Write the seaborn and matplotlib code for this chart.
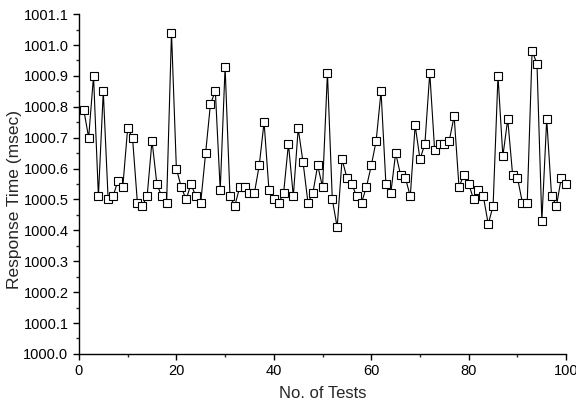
import matplotlib
matplotlib.use("Agg")
import matplotlib.pyplot as plt
import matplotlib.ticker as mticker
import pandas as pd
import seaborn as sns

tests = list(range(1, 101))
response = [
    1000.79, 1000.70, 1000.90, 1000.51, 1000.85, 1000.50, 1000.51, 1000.56, 1000.54, 1000.73,
    1000.70, 1000.49, 1000.48, 1000.51, 1000.69, 1000.55, 1000.51, 1000.49, 1001.04, 1000.60,
    1000.54, 1000.50, 1000.55, 1000.51, 1000.49, 1000.65, 1000.81, 1000.85, 1000.53, 1000.93,
    1000.51, 1000.48, 1000.54, 1000.54, 1000.52, 1000.52, 1000.61, 1000.75, 1000.53, 1000.50,
    1000.49, 1000.52, 1000.68, 1000.51, 1000.73, 1000.62, 1000.49, 1000.52, 1000.61, 1000.54,
    1000.91, 1000.50, 1000.41, 1000.63, 1000.57, 1000.55, 1000.51, 1000.49, 1000.54, 1000.61,
    1000.69, 1000.85, 1000.55, 1000.52, 1000.65, 1000.58, 1000.57, 1000.51, 1000.74, 1000.63,
    1000.68, 1000.91, 1000.66, 1000.68, 1000.68, 1000.69, 1000.77, 1000.54, 1000.58, 1000.55,
    1000.50, 1000.53, 1000.51, 1000.42, 1000.48, 1000.90, 1000.64, 1000.76, 1000.58, 1000.57,
    1000.49, 1000.49, 1000.98, 1000.94, 1000.43, 1000.76, 1000.51, 1000.48, 1000.57, 1000.55,
]

df = pd.DataFrame({"test": tests, "time": response})

sns.set_style("ticks")
plt.rcParams["font.family"] = ["Liberation Sans", "DejaVu Sans"]

fig = plt.figure(figsize=(5.76, 4.04), dpi=100)
ax = fig.add_axes([0.137, 0.124, 0.846, 0.841])

sns.lineplot(data=df, x="test", y="time", ax=ax, color="black", linewidth=0.8,
             marker="s", markersize=5.8, markerfacecolor="white",
             markeredgecolor="black", markeredgewidth=0.8, clip_on=False)

ax.set_xlim(0, 100)
ax.set_ylim(1000.0, 1001.1)
ax.xaxis.set_major_locator(mticker.MultipleLocator(20))
ax.xaxis.set_minor_locator(mticker.MultipleLocator(10))
ax.yaxis.set_major_locator(mticker.MultipleLocator(0.1))
ax.yaxis.set_minor_locator(mticker.MultipleLocator(0.05))
ax.yaxis.set_major_formatter(mticker.FormatStrFormatter("%.1f"))
ax.tick_params(which="major", length=4, width=1, labelsize=10.5, colors="black")
ax.tick_params(which="minor", length=2.5, width=1)
for s in ["left", "bottom"]:
    ax.spines[s].set_linewidth(1)
    ax.spines[s].set_color("black")
sns.despine(ax=ax)

ax.set_xlabel("No. of Tests", fontsize=12)
ax.set_ylabel("Response Time (msec)", fontsize=12.5)
ax.yaxis.set_label_coords(-0.117, 0.453)
ax.xaxis.set_label_coords(0.5, -0.095)

fig.savefig("out.png", dpi=100)
